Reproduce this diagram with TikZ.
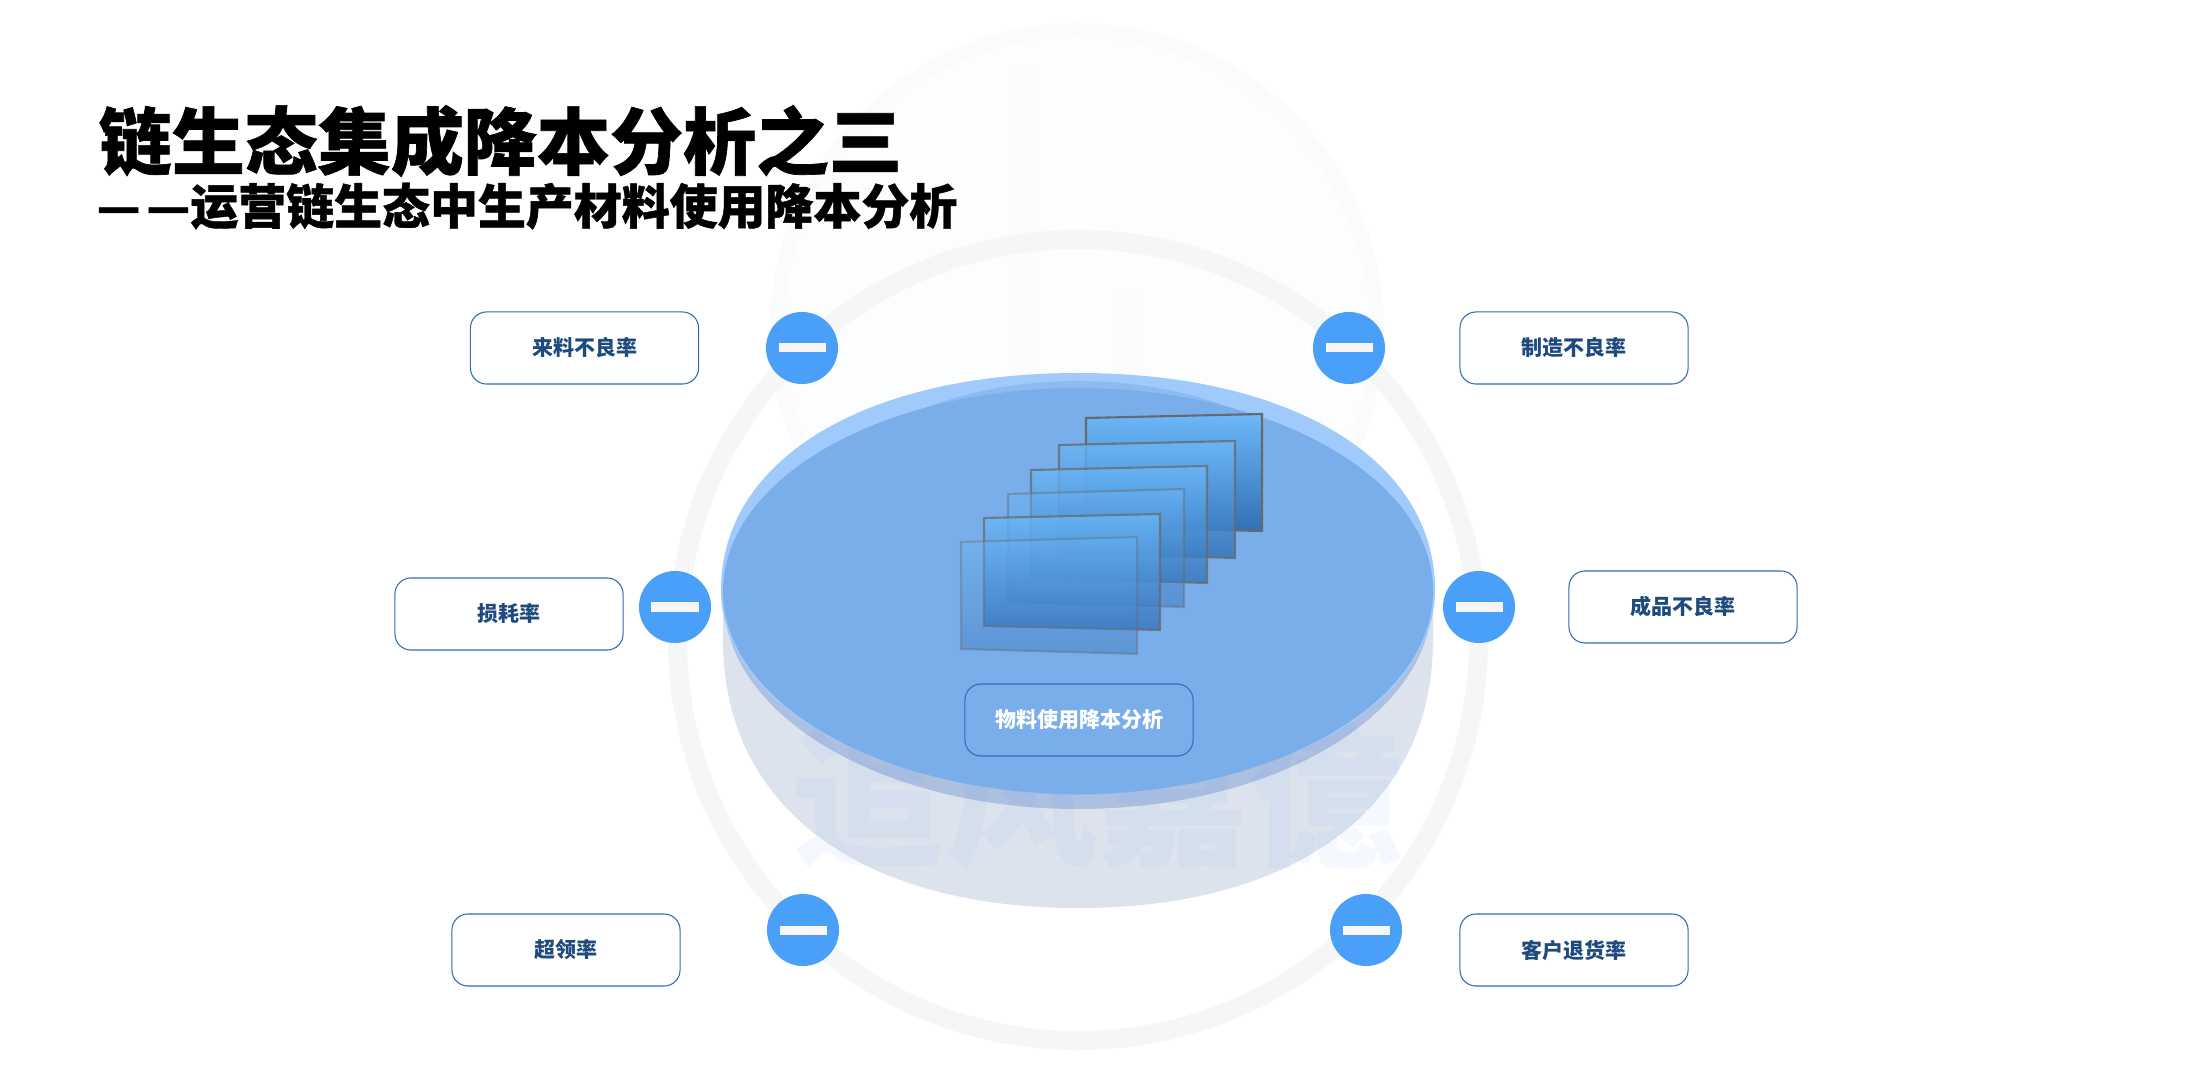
\documentclass[tikz,border=0pt]{standalone}
\usepackage{fontspec}
\usepackage{tikz}
\setmainfont{Noto Sans CJK SC}
\newfontfamily\cjkheavy[BoldFeatures={FakeBold=0.9}]{Noto Sans CJK SC}

\definecolor{ringgrey}{HTML}{F6F6F7}
\definecolor{logofaint}{HTML}{FAFBFD}
\definecolor{logostem}{HTML}{FBFCFE}
\definecolor{logofill}{HTML}{FCFDFE}
\definecolor{bodygrey}{HTML}{DDE3EC}
\definecolor{rimdark}{HTML}{ADC0E0}
\definecolor{rimlight}{HTML}{9FCAFB}
\definecolor{rimmid}{HTML}{8DBBF0}
\definecolor{discblue}{HTML}{7AAEEA}
\definecolor{dotblue}{HTML}{4AA0F8}
\definecolor{barwhite}{HTML}{F6F6F6}
\definecolor{boxedge}{HTML}{2F6DB5}
\definecolor{boxtext}{HTML}{1F4A7D}
\definecolor{paneledge}{HTML}{666A70}
\definecolor{paneltop}{HTML}{6CB8F8}
\definecolor{panelmid}{HTML}{5199DE}
\definecolor{panelbot}{HTML}{3270B6}
\definecolor{marktext}{HTML}{0569FF}

\tikzset{
	labelbox/.style={draw=boxedge, line width=0.3pt, rounded corners=0.16cm, minimum width=2.28cm, minimum height=0.72cm, inner sep=0pt, text=boxtext, font=\fontsize{5.97}{7}\selectfont\bfseries},
	minusdot/.style={circle, fill=dotblue, minimum size=0.72cm, inner sep=0pt},
	minusbar/.style={rectangle, fill=barwhite, minimum width=0.47cm, minimum height=0.09cm, inner sep=0pt},
	glass/.style={top color=paneltop, middle color=panelmid, bottom color=panelbot, draw=paneledge, line width=0.6pt, fill opacity=#1, draw opacity=#1},
}

\begin{document}
\begin{tikzpicture}[x=0.01cm, y=-0.01cm]
	\useasboundingbox (0,0) rectangle (2192,1080);
	\fill[white] (0,0) rectangle (2192,1080);

	\begin{scope}
		% logo dietro
		\draw[logofaint, line width=0.14cm, fill=logofill] (1077,330) circle (300);
		\fill[logostem] (1012,67) rectangle (1039,620);
		\fill[logostem] (1113,290) rectangle (1144,620);
		\draw[ringgrey, line width=0.19cm] (1078,640) circle (400.5); % anello grande
	\end{scope}

	\begin{scope}
		% disco
		\fill[bodygrey] (723,590) -- (723,640) .. controls (723,806) and (858,908) .. (1078,908) .. controls (1298,908) and (1433,806) .. (1433,640) -- (1433,590) -- cycle;
		\fill[rimdark] (1078,600) ellipse (354 and 209);
		\node[font=\fontsize{43.5}{44}\selectfont\bfseries, text=marktext, text opacity=0.04, inner sep=0pt] (mark) at (1097,796) {追风嘉億};
		\fill[rimlight] (721,590) .. controls (721,460) and (864,373) .. (1078,373) .. controls (1292,373) and (1435,460) .. (1435,590) .. controls (1435,700) and (1292,790) .. (1078,790) .. controls (864,790) and (721,700) .. (721,590) -- cycle;
		\fill[rimmid] (1078,588) ellipse (310 and 207);
		\fill[discblue] (1078,591) ellipse (355 and 203);
	\end{scope}

	\begin{scope}
		% lastre
		\shade[glass=1.0] (1086,418) -- (1262,414) -- (1262,531) -- (1086,527) -- cycle;
		\shade[glass=0.8] (1059,445) -- (1235,441) -- (1235,558) -- (1059,553) -- cycle;
		\shade[glass=0.75] (1031,470) -- (1207,466) -- (1207,583) -- (1031,578) -- cycle;
		\shade[glass=0.45] (1008,494) -- (1184,489) -- (1184,607) -- (1008,602) -- cycle;
		\shade[glass=0.75] (984,518) -- (1160,514) -- (1160,630) -- (984,626) -- cycle;
		\shade[glass=0.4] (961,542) -- (1137,537) -- (1137,654) -- (961,649) -- cycle;
	\end{scope}

	\node[font=\fontsize{20.77}{21}\selectfont\cjkheavy\bfseries, anchor=west, inner sep=0pt] (title) at (98,141) {链生态集成降本分析之三};
	\node[font=\fontsize{13.63}{14}\selectfont\cjkheavy\bfseries, anchor=west, inner sep=0pt] (subtitle) at (96,206) {—\kern1.7pt—运营链生态中生产材料使用降本分析};

	\node[labelbox] (lailiao) at (584.5,348) {来料不良率};
	\node[labelbox] (zhizao) at (1574,348) {制造不良率};
	\node[labelbox] (sunhao) at (509,614) {损耗率};
	\node[labelbox] (chengpin) at (1683,607) {成品不良率};
	\node[labelbox] (chaoling) at (566,950) {超领率};
	\node[labelbox] (kehu) at (1574,950) {客户退货率};
	\node[labelbox, text=white] (wuliao) at (1079,720) {物料使用降本分析};

	\node[minusdot] (dota) at (802,348) {};
	\node[minusdot] (dotb) at (1349,348) {};
	\node[minusdot] (dotc) at (675,607) {};
	\node[minusdot] (dotd) at (1479,607) {};
	\node[minusdot] (dote) at (803,930) {};
	\node[minusdot] (dotf) at (1366,930) {};

	\node[minusbar] (bara) at (dota) {};
	\node[minusbar] (barb) at (dotb) {};
	\node[minusbar] (barc) at (dotc) {};
	\node[minusbar] (bard) at (dotd) {};
	\node[minusbar] (bare) at (dote) {};
	\node[minusbar] (barf) at (dotf) {};
\end{tikzpicture}
\end{document}
